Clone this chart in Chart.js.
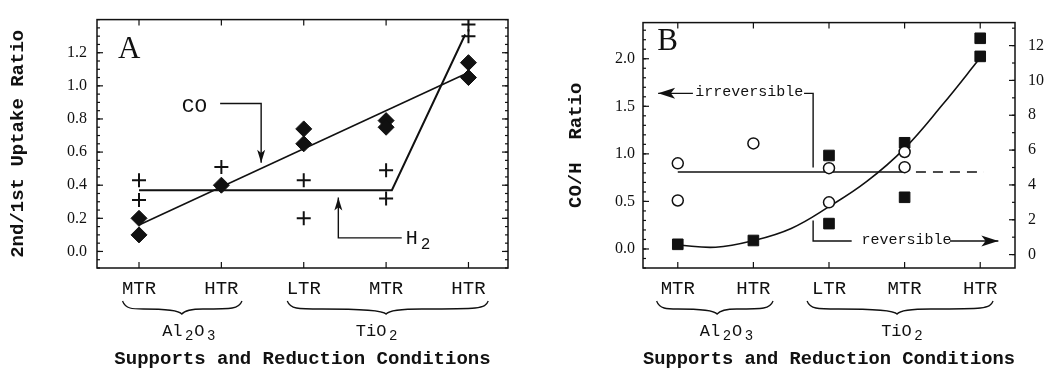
<!DOCTYPE html>
<html>
<head>
<meta charset="utf-8">
<script src="https://cdn.jsdelivr.net/npm/chart.js@4"></script>
<style>
html,body{margin:0;padding:0;background:#fff;}
#wrap{position:relative;width:1046px;height:383px;overflow:hidden;}
.box{position:absolute;top:0;height:383px;}
#boxA{left:0;width:520px;}
#boxB{left:520px;width:526px;}
</style>
</head>
<body>
<div id="wrap">
  <div class="box" id="boxA"><canvas id="cA" width="520" height="383"></canvas></div>
  <div class="box" id="boxB"><canvas id="cB" width="526" height="383"></canvas></div>
</div>
<script>
// ---------- data ----------
const categories = ['MTR', 'HTR', 'LTR', 'MTR', 'HTR'];

// Panel A : 2nd/1st uptake ratio
const coX = [0, 0, 1, 2, 2, 3, 3, 4, 4];
const coY = [0.20, 0.10, 0.40, 0.74, 0.65, 0.79, 0.75, 1.14, 1.05];
const h2X = [0, 0, 1, 2, 2, 3, 3, 4, 4];
const h2Y = [0.43, 0.31, 0.51, 0.43, 0.20, 0.49, 0.32, 1.37, 1.30];
const coFitX = [0, 4];
const coFitY = [0.16, 1.08];
const h2FitX = [0, 3.07, 3.96];
const h2FitY = [0.37, 0.37, 1.31];
const yTicksA = [0.0, 0.2, 0.4, 0.6, 0.8, 1.0, 1.2];

// Panel B : CO/H ratio
const irrevX = [0, 0, 1, 2, 2, 3, 3];
const irrevY = [0.90, 0.51, 1.11, 0.85, 0.49, 1.02, 0.86];
const revX = [0, 1, 2, 2, 3, 3, 4, 4];
const revY = [0.59, 0.81, 5.69, 1.78, 6.42, 3.29, 12.42, 11.38];
const revFitX = [0, 0.5, 1, 1.5, 2, 2.5, 3, 3.5, 4];
const revFitY = [0.55, 0.42, 0.80, 1.50, 2.75, 4.20, 6.10, 8.60, 11.30];
const irrevMeanX = [0, 3];
const irrevMeanY = [0.81, 0.81];
const irrevMeanExtX = [3.15, 4.05];
const irrevMeanExtY = [0.81, 0.81];
const yTicksBLeft = [0.0, 0.5, 1.0, 1.5, 2.0];
const yTicksBRight = [0, 2, 4, 6, 8, 10, 12];

// ---------- helpers ----------
const pts = (xs, ys) => xs.map((x, i) => ({x: x, y: ys[i]}));
const INK = '#111';
const MONO = 'Liberation Mono, Courier New, monospace';
const SERIF = 'Liberation Serif, Times New Roman, serif';

function drawRich(ctx, parts, x, y, size, align) {
  const sub = Math.round(size * 0.8);
  let w = 0;
  const widths = parts.map(p => {
    ctx.font = (p[1] ? sub : size) + 'px ' + MONO;
    const ww = ctx.measureText(p[0]).width + (p[1] ? size * 0.2 : 0);
    w += ww; return ww;
  });
  let cx = align === 'center' ? x - w / 2 : x;
  ctx.textAlign = 'left';
  ctx.textBaseline = 'middle';
  parts.forEach((p, i) => {
    ctx.font = (p[1] ? sub : size) + 'px ' + MONO;
    ctx.fillText(p[0], cx + (p[1] ? size * 0.15 : 0), y + (p[1] ? size * 0.32 : 0));
    cx += widths[i];
  });
}

function drawArrow(ctx, P, headLen, headW, lw) {
  ctx.lineWidth = lw;
  ctx.beginPath();
  ctx.moveTo(P[0][0], P[0][1]);
  for (let i = 1; i < P.length; i++) ctx.lineTo(P[i][0], P[i][1]);
  ctx.stroke();
  if (headLen) {
    const a = P[P.length - 2], b = P[P.length - 1];
    const ang = Math.atan2(b[1] - a[1], b[0] - a[0]);
    ctx.beginPath();
    ctx.moveTo(b[0], b[1]);
    ctx.lineTo(b[0] - headLen * Math.cos(ang) + headW * Math.sin(ang), b[1] - headLen * Math.sin(ang) - headW * Math.cos(ang));
    ctx.lineTo(b[0] - headLen * 0.75 * Math.cos(ang), b[1] - headLen * 0.75 * Math.sin(ang));
    ctx.lineTo(b[0] - headLen * Math.cos(ang) - headW * Math.sin(ang), b[1] - headLen * Math.sin(ang) + headW * Math.cos(ang));
    ctx.closePath();
    ctx.fill();
  }
}

// frame with inward ticks
const framePlugin = {
  id: 'frame',
  afterDatasetsDraw(chart, args, o) {
    const {ctx, chartArea: a, scales} = chart;
    ctx.save();
    ctx.strokeStyle = INK;
    ctx.lineWidth = 1.5;
    ctx.strokeRect(a.left, a.top, a.right - a.left, a.bottom - a.top);
    ctx.lineWidth = 1.2;
    const line = (x1, y1, x2, y2) => { ctx.beginPath(); ctx.moveTo(x1, y1); ctx.lineTo(x2, y2); ctx.stroke(); };
    o.sides.forEach(sd => {
      const s = scales[sd.scale];
      const dir = sd.edge === 'left' ? 1 : -1;
      const x0 = sd.edge === 'left' ? a.left : a.right;
      s.ticks.forEach(t => { const p = s.getPixelForValue(t.value); line(x0, p, x0 + dir * 6, p); });
      const n0 = Math.ceil(s.min / sd.minor - 1e-6), n1 = Math.floor(s.max / sd.minor + 1e-6);
      for (let n = n0; n <= n1; n++) {
        const p = s.getPixelForValue(n * sd.minor);
        line(x0, p, x0 + dir * 3, p);
      }
    });
    const xs = scales.x;
    xs.ticks.forEach(t => {
      const p = xs.getPixelForValue(t.value);
      line(p, a.top, p, a.top + 6);
      line(p, a.bottom, p, a.bottom - 6);
    });
    ctx.restore();
  }
};

// annotations (text + arrows in data coordinates)
const notePlugin = {
  id: 'notes',
  afterDraw(chart, args, o) {
    const {ctx, scales} = chart;
    const X = v => scales.x.getPixelForValue(v), Y = v => scales.y.getPixelForValue(v);
    ctx.save();
    ctx.fillStyle = INK; ctx.strokeStyle = INK;
    o.items.forEach(it => {
      if (it.type === 'text') {
        ctx.font = it.font;
        ctx.textAlign = it.align || 'left';
        ctx.textBaseline = 'middle';
        ctx.fillText(it.text, X(it.x), Y(it.y));
      } else if (it.type === 'rich') {
        drawRich(ctx, it.parts, X(it.x), Y(it.y), it.size, 'left');
      } else if (it.type === 'arrow') {
        drawArrow(ctx, it.pts.map(p => [X(p[0]), Y(p[1])]), it.head, it.headW, it.lw || 1.4);
      }
    });
    ctx.restore();
  }
};

// braces + support group labels below the category axis
const bracePlugin = {
  id: 'braces',
  afterDraw(chart, args, o) {
    const {ctx} = chart; const xs = chart.scales.x;
    ctx.save();
    ctx.strokeStyle = INK; ctx.fillStyle = INK; ctx.lineWidth = 1.3;
    o.groups.forEach(g => {
      const x1 = xs.getPixelForValue(g.from), x2 = xs.getPixelForValue(g.to), xt = xs.getPixelForValue(g.tip);
      const yT = o.top, yM = o.mid, yA = o.apex;
      ctx.beginPath();
      ctx.moveTo(x1, yT);
      ctx.bezierCurveTo(x1 + 3, yM, x1 + 10, yM, x1 + 0.35 * (xt - x1), yM);
      ctx.quadraticCurveTo(xt - 4, yM, xt, yA);
      ctx.quadraticCurveTo(xt + 4, yM, xt + 0.35 * (x2 - xt), yM);
      ctx.bezierCurveTo(x2 - 10, yM, x2 - 3, yM, x2, yT);
      ctx.stroke();
      drawRich(ctx, g.parts, xs.getPixelForValue(g.center), o.labelY, o.size, 'center');
    });
    ctx.restore();
  }
};

Chart.register(framePlugin, notePlugin, bracePlugin);

const xTickFont = {family: MONO, size: 19};
const numFont = {family: SERIF, size: 16};
const titleFont = {family: MONO, size: 19, weight: 'bold'};

function xScale(min, max) {
  return {
    type: 'linear', min: min, max: max,
    afterBuildTicks: s => { s.ticks = categories.map((c, i) => ({value: i})); },
    afterFit: s => { s.height = 115; },
    ticks: {callback: (v, i) => categories[i], font: xTickFont, color: INK, padding: 10, maxRotation: 0, autoSkip: false},
    grid: {display: false, drawTicks: false},
    border: {display: false},
    title: {display: true, text: 'Supports and Reduction Conditions', font: titleFont, color: INK, padding: {top: 0, bottom: 12}}
  };
}

const common = {
  responsive: false,
  animation: false,
  events: [],
  plugins: {legend: {display: false}, tooltip: {enabled: false}}
};

// ---------- Panel A ----------
new Chart(document.getElementById('cA'), {
  type: 'scatter',
  data: {
    datasets: [
      {label: 'CO', data: pts(coX, coY), pointStyle: 'rectRot', pointRadius: 8, backgroundColor: INK, borderColor: INK, borderWidth: 1, order: 0},
      {label: 'H2', data: pts(h2X, h2Y), pointStyle: 'cross', pointRadius: 7, borderColor: INK, borderWidth: 2, order: 0},
      {type: 'line', label: 'CO fit', data: pts(coFitX, coFitY), borderColor: INK, borderWidth: 1.6, pointRadius: 0, fill: false, tension: 0, order: 1},
      {type: 'line', label: 'H2 fit', data: pts(h2FitX, h2FitY), borderColor: INK, borderWidth: 2, pointRadius: 0, fill: false, tension: 0, order: 1}
    ]
  },
  options: Object.assign({}, common, {
    layout: {padding: {top: 12, right: 12, left: 0, bottom: 0}},
    scales: {
      x: xScale(-0.51, 4.48),
      y: {
        min: -0.1, max: 1.4,
        afterBuildTicks: s => { s.ticks = yTicksA.map(v => ({value: v})); },
        afterFit: s => { s.width = 97; },
        ticks: {callback: v => Number(v).toFixed(1), font: numFont, color: INK, padding: 10},
        grid: {display: false, drawTicks: false},
        border: {display: false},
        title: {display: true, text: '2nd/1st Uptake Ratio', font: titleFont, color: INK, padding: {top: 7, bottom: 0}}
      }
    },
    plugins: Object.assign({}, common.plugins, {
      frame: {sides: [{scale: 'y', edge: 'left', minor: 0.05}, {scale: 'y', edge: 'right', minor: 0.05}]},
      notes: {items: [
        {type: 'text', text: 'A', x: -0.12, y: 1.22, font: '31px ' + SERIF, align: 'center'},
        {type: 'text', text: 'CO', x: 0.52, y: 0.873, font: '21px ' + MONO},
        {type: 'arrow', pts: [[0.985, 0.893], [1.483, 0.893], [1.483, 0.536]], head: 13, headW: 4, lw: 1.4},
        {type: 'arrow', pts: [[3.19, 0.082], [2.42, 0.082], [2.42, 0.326]], head: 13, headW: 4, lw: 1.4},
        {type: 'rich', parts: [['H', false], ['2', true]], x: 3.24, y: 0.078, size: 20}
      ]},
      braces: {top: 301, mid: 309, apex: 314, labelY: 331, size: 17, groups: [
        {from: -0.2, to: 1.25, tip: 0.52, center: 0.61, parts: [['Al', false], ['2', true], ['O', false], ['3', true]]},
        {from: 1.8, to: 4.24, tip: 3.0, center: 2.89, parts: [['TiO', false], ['2', true]]}
      ]}
    })
  })
});

// ---------- Panel B ----------
new Chart(document.getElementById('cB'), {
  type: 'scatter',
  data: {
    datasets: [
      {label: 'irreversible', data: pts(irrevX, irrevY), yAxisID: 'y', pointStyle: 'circle', pointRadius: 5.5, backgroundColor: '#fff', borderColor: INK, borderWidth: 1.5, order: 0},
      {label: 'reversible', data: pts(revX, revY), yAxisID: 'y2', pointStyle: 'rect', pointRadius: 7.5, backgroundColor: INK, borderColor: INK, borderWidth: 1, order: 0},
      {type: 'line', label: 'reversible fit', data: pts(revFitX, revFitY), yAxisID: 'y2', borderColor: INK, borderWidth: 1.6, pointRadius: 0, fill: false, tension: 0.4, order: 1},
      {type: 'line', label: 'irreversible mean', data: pts(irrevMeanX, irrevMeanY), yAxisID: 'y', borderColor: INK, borderWidth: 1.6, pointRadius: 0, fill: false, tension: 0, order: 1},
      {type: 'line', label: 'irreversible mean (ext.)', data: pts(irrevMeanExtX, irrevMeanExtY), yAxisID: 'y', borderColor: INK, borderWidth: 1.6, borderDash: [10, 7], pointRadius: 0, fill: false, tension: 0, order: 1}
    ]
  },
  options: Object.assign({}, common, {
    layout: {padding: {top: 12, right: 0, left: 0, bottom: 0}},
    scales: {
      x: xScale(-0.46, 4.46),
      y: {
        position: 'left',
        min: -0.2, max: 2.38,
        afterBuildTicks: s => { s.ticks = yTicksBLeft.map(v => ({value: v})); },
        afterFit: s => { s.width = 123; },
        ticks: {callback: v => Number(v).toFixed(1), font: numFont, color: INK, padding: 8},
        grid: {display: false, drawTicks: false},
        border: {display: false},
        title: {display: true, text: 'CO/H  Ratio', font: titleFont, color: INK, padding: {top: 45, bottom: 0}}
      },
      y2: {
        position: 'right',
        min: -0.77, max: 13.32,
        afterBuildTicks: s => { s.ticks = yTicksBRight.map(v => ({value: v})); },
        afterFit: s => { s.width = 31; },
        ticks: {callback: v => String(v), font: numFont, color: INK, padding: 13},
        grid: {display: false, drawTicks: false, drawOnChartArea: false},
        border: {display: false}
      }
    },
    plugins: Object.assign({}, common.plugins, {
      frame: {sides: [{scale: 'y', edge: 'left', minor: 0.1}, {scale: 'y2', edge: 'right', minor: 1}]},
      notes: {items: [
        {type: 'text', text: 'B', x: -0.135, y: 2.18, font: '31px ' + SERIF, align: 'center'},
        {type: 'arrow', pts: [[0.2, 1.636], [-0.26, 1.636]], head: 17, headW: 5.5, lw: 1.4},
        {type: 'text', text: 'irreversible', x: 0.23, y: 1.65, font: '15px ' + MONO},
        {type: 'arrow', pts: [[1.67, 1.636], [1.79, 1.636], [1.79, 0.857]], head: 0, lw: 1.4},
        {type: 'arrow', pts: [[1.79, 0.30], [1.79, 0.084], [2.3, 0.084]], head: 0, lw: 1.4},
        {type: 'text', text: 'reversible', x: 2.43, y: 0.098, font: '15px ' + MONO},
        {type: 'arrow', pts: [[3.6, 0.084], [4.24, 0.084]], head: 17, headW: 5.5, lw: 1.4}
      ]},
      braces: {top: 301, mid: 309, apex: 314, labelY: 331, size: 17, groups: [
        {from: -0.28, to: 1.26, tip: 0.52, center: 0.65, parts: [['Al', false], ['2', true], ['O', false], ['3', true]]},
        {from: 1.71, to: 4.17, tip: 2.9, center: 2.97, parts: [['TiO', false], ['2', true]]}
      ]}
    })
  })
});
</script>
</body>
</html>
